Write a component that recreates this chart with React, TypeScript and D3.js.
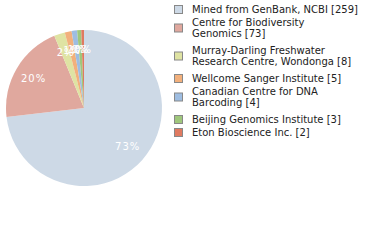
import React from "react";
import * as d3 from "d3";

const labels = [
  "Mined from GenBank, NCBI [259]",
  "Centre for Biodiversity|Genomics [73]",
  "Murray-Darling Freshwater|Research Centre, Wondonga [8]",
  "Wellcome Sanger Institute [5]",
  "Canadian Centre for DNA|Barcoding [4]",
  "Beijing Genomics Institute [3]",
  "Eton Bioscience Inc. [2]",
];
const values = [259, 73, 8, 5, 4, 3, 2];
const colors = ["#cdd9e6", "#e0a89e", "#dfe3a3", "#f2b07c", "#9ebde1", "#9fc77c", "#e07a60"];

export default function App() {
  const cx = 84, cy = 108, r = 78;
  const total = d3.sum(values);
  const pie = d3.pie<number>().sort(null).value((d) => d)(values);
  const arc = d3.arc<d3.PieArcDatum<number>>().innerRadius(0).outerRadius(r);
  const labelArc = d3.arc<d3.PieArcDatum<number>>().innerRadius(r * 0.75).outerRadius(r * 0.75);
  const font = "DejaVu Sans, sans-serif";
  let y = 9;
  const rows = labels.map((l, i) => {
    const lines = l.split("|");
    const top = y;
    y += lines.length === 1 ? 13 : 28;
    return { lines, top, i };
  });
  return (
    <svg width={380} height={240} style={{ position: "absolute", left: 0, top: 0 }}>
      <g transform={`translate(${cx},${cy})`}>
        {pie.map((p, i) => (
          <path key={i} d={arc(p) || ""} fill={colors[i]} />
        ))}
        {pie.map((p, i) => {
          const [lx, ly] = labelArc.centroid(p);
          return (
            <text key={i} x={lx} y={ly} fill="#fff" fontFamily={font} fontSize={10}
              textAnchor="middle" dominantBaseline="central" letterSpacing={1}>
              {Math.floor((values[i] / total) * 100)}%
            </text>
          );
        })}
      </g>
      {rows.map(({ lines, top, i }) => {
        const mid = top + ((lines.length - 1) * 11) / 2;
        return (
          <g key={i}>
            <rect x={174.5} y={mid - 3.5} width={8} height={8} fill={colors[i]} stroke="#888" strokeWidth={1} />
            {lines.map((ln, j) => (
              <text key={j} x={192} y={top + j * 11} fontFamily={font} fontSize={10} fill="#222" dominantBaseline="central">
                {ln}
              </text>
            ))}
          </g>
        );
      })}
    </svg>
  );
}
